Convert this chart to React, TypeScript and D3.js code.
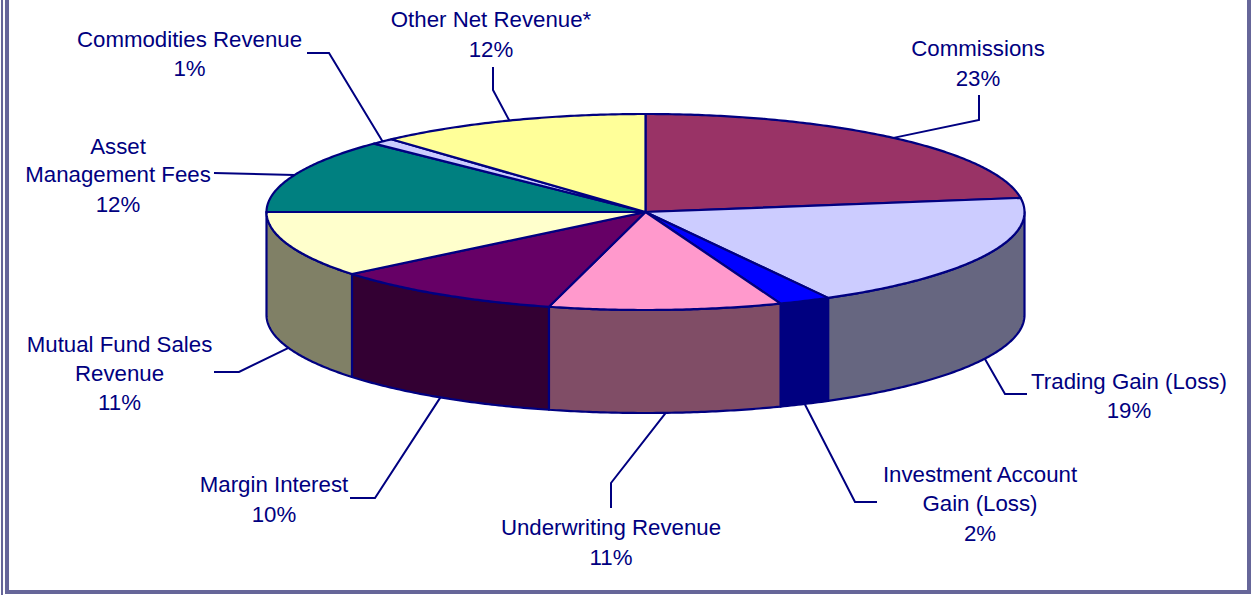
import React from "react";
import * as d3 from "d3";

// Data
const categories = [
  "Commissions",
  "Trading Gain (Loss)",
  "Investment Account Gain (Loss)",
  "Underwriting Revenue",
  "Margin Interest",
  "Mutual Fund Sales Revenue",
  "Asset Management Fees",
  "Commodities Revenue",
  "Other Net Revenue*",
];
const sliceShares = [22.7, 19.3, 2.2, 9.9, 10.0, 10.9, 12.3, 1.0, 11.7];
const percentLabels = ["23%", "19%", "2%", "11%", "10%", "11%", "12%", "1%", "12%"];
const topColors = ["#993366", "#CCCCFF", "#0000FF", "#FF99CC", "#660066", "#FFFFCC", "#008080", "#CCCCFF", "#FFFF99"];

// Layout
const W = 1252;
const H = 595;
const NAVY = "#000080";
const BORDER = "#666699";
const cx = 645.5;
const cy = 212;
const rx = 379;
const ry = 98;
const depth = 103;
const FONT = 22.25;

type LabelLayout = { lines: string[]; x: number; y: number[]; path: [number, number][] };
const labelLayout: LabelLayout[] = [
  { lines: ["Commissions"], x: 978, y: [56, 86], path: [[979, 120], [979, 95]] },
  { lines: ["Trading Gain (Loss)"], x: 1129, y: [389, 418], path: [[1005, 394], [1027, 394]] },
  { lines: ["Investment Account", "Gain (Loss)"], x: 980, y: [482, 511, 541], path: [[855, 502], [877, 502]] },
  { lines: ["Underwriting Revenue"], x: 611, y: [535, 565], path: [[611, 483], [611, 508]] },
  { lines: ["Margin Interest"], x: 274, y: [492, 522], path: [[375, 498], [350, 498]] },
  { lines: ["Mutual Fund Sales", "Revenue"], x: 119.5, y: [352, 381, 410], path: [[239, 372], [214, 372]] },
  { lines: ["Asset", "Management Fees"], x: 118, y: [154, 182, 212], path: [[214, 173]] },
  { lines: ["Commodities Revenue"], x: 189.5, y: [47, 76], path: [[329, 53], [307, 53]] },
  { lines: ["Other Net Revenue*"], x: 491, y: [27, 57], path: [[493, 90], [493, 67]] },
];

const pie = d3.pie<number>().sort(null).startAngle(0).endAngle(2 * Math.PI);
const arcs = pie(sliceShares);

const px = (a: number) => cx + rx * Math.sin(a);
const py = (a: number) => cy - ry * Math.cos(a);
const line = d3.line<[number, number]>();

const sample = (a0: number, a1: number): number[] => {
  const n = Math.max(2, Math.ceil(Math.abs(a1 - a0) / 0.01));
  return d3.range(n + 1).map((i) => a0 + ((a1 - a0) * i) / n);
};

const topPath = (a0: number, a1: number) => {
  const pts: [number, number][] = [[cx, cy], ...sample(a0, a1).map((a) => [px(a), py(a)] as [number, number])];
  return line(pts) + "Z";
};

const wallPath = (a0: number, a1: number) => {
  const lo = Math.max(a0, Math.PI / 2);
  const hi = Math.min(a1, (3 * Math.PI) / 2);
  if (hi <= lo) return null;
  const s = sample(lo, hi);
  const pts: [number, number][] = [
    ...s.map((a) => [px(a), py(a)] as [number, number]),
    ...s.slice().reverse().map((a) => [px(a), py(a) + depth] as [number, number]),
  ];
  return line(pts) + "Z";
};

const sideColor = (c: string) => {
  const r = d3.rgb(c);
  return d3.rgb(r.r / 2, r.g / 2, r.b / 2).formatHex();
};

const isFront = (a: number) => a > Math.PI / 2 && a < (3 * Math.PI) / 2;

export default function App() {
  return (
    <svg
      width={W}
      height={H}
      viewBox={`0 0 ${W} ${H}`}
      style={{ position: "absolute", left: 0, top: 0, background: "#fff", fontFamily: "'Liberation Sans', Arial, sans-serif" }}
    >
      <rect x={1} y={0} width={2} height={H} fill={BORDER} />
      <rect x={5} y={0} width={4} height={594} fill={BORDER} />
      <rect x={5} y={590} width={1246} height={4} fill={BORDER} />
      <rect x={1247} y={0} width={4} height={594} fill={BORDER} />

      <g stroke={NAVY} strokeWidth={2.2} strokeLinejoin="round">
        {arcs.map((d, i) => {
          const p = wallPath(d.startAngle, d.endAngle);
          return p ? <path key={i} d={p} fill={sideColor(topColors[i])} /> : null;
        })}
        {arcs.map((d, i) => (
          <path key={i} d={topPath(d.startAngle, d.endAngle)} fill={topColors[i]} />
        ))}
      </g>

      <g fill="none" stroke={NAVY} strokeWidth={2}>
        {arcs.map((d, i) => {
          const mid = (d.startAngle + d.endAngle) / 2;
          const start: [number, number] = [px(mid), py(mid) + (isFront(mid) ? depth : 0)];
          return <path key={i} d={line([start, ...labelLayout[i].path]) ?? ""} />;
        })}
      </g>

      <g fill={NAVY} fontSize={FONT} textAnchor="middle">
        {categories.map((c, i) => {
          const l = labelLayout[i];
          return (
            <text key={c}>
              {[...l.lines, percentLabels[i]].map((t, j) => (
                <tspan key={j} x={l.x} y={l.y[j]}>
                  {t}
                </tspan>
              ))}
            </text>
          );
        })}
      </g>
    </svg>
  );
}
